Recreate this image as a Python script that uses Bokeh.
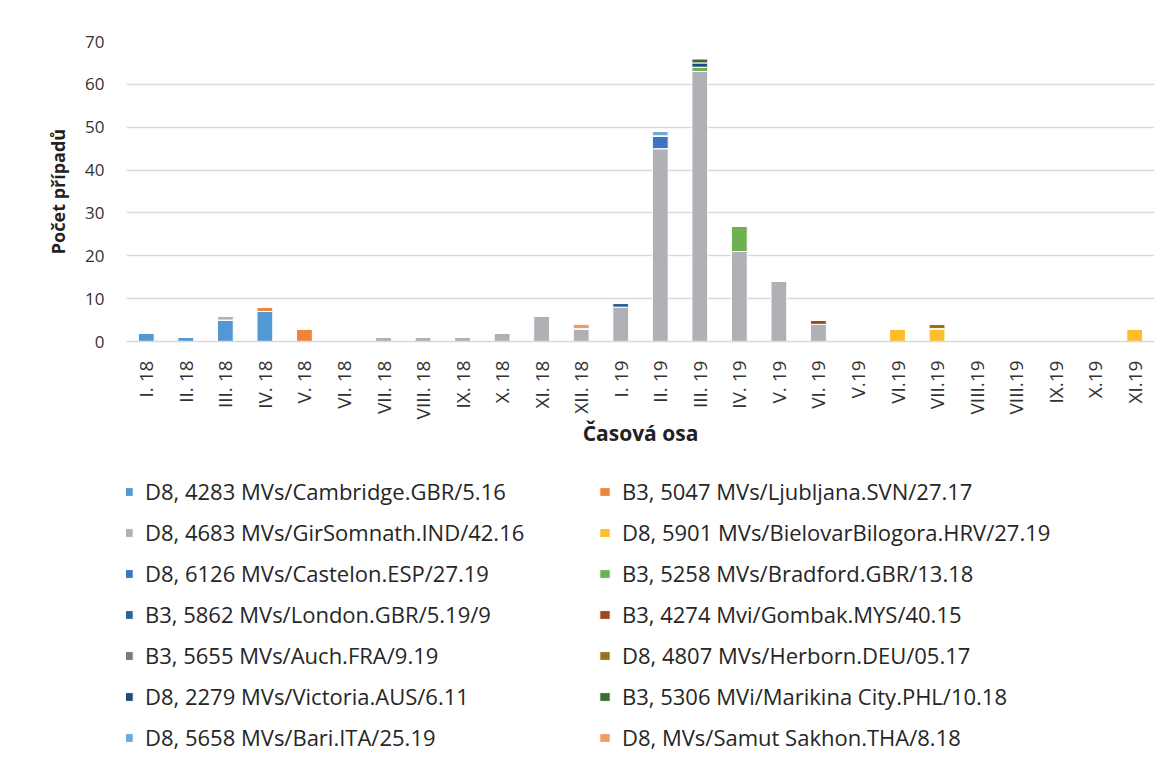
import math
from bokeh.plotting import figure
from bokeh.layouts import column
from bokeh.models import Range1d, FixedTicker, Legend, LegendItem
from bokeh.embed import file_html
from bokeh.resources import INLINE

# ---- data ----
months = ["I. 18", "II. 18", "III. 18", "IV. 18", "V. 18", "VI. 18", "VII. 18", "VIII. 18",
          "IX. 18", "X. 18", "XI. 18", "XII. 18", "I. 19", "II. 19", "III. 19", "IV. 19",
          "V. 19", "VI. 19", "V.19", "VI.19", "VII.19", "VIII.19", "VIII.19", "IX.19", "X.19", "XI.19"]

series_names = [
    "D8, 4283 MVs/Cambridge.GBR/5.16",
    "B3, 5047 MVs/Ljubljana.SVN/27.17",
    "D8, 4683 MVs/GirSomnath.IND/42.16",
    "D8, 5901 MVs/BielovarBilogora.HRV/27.19",
    "D8, 6126 MVs/Castelon.ESP/27.19",
    "B3, 5258 MVs/Bradford.GBR/13.18",
    "B3, 5862 MVs/London.GBR/5.19/9",
    "B3, 4274 Mvi/Gombak.MYS/40.15",
    "B3, 5655 MVs/Auch.FRA/9.19",
    "D8, 4807 MVs/Herborn.DEU/05.17",
    "D8, 2279 MVs/Victoria.AUS/6.11",
    "B3, 5306 MVi/Marikina City.PHL/10.18",
    "D8, 5658 MVs/Bari.ITA/25.19",
    "D8, MVs/Samut Sakhon.THA/8.18",
]

cambridge  = [2, 1, 5, 7, 0, 0, 0, 0, 0, 0, 0, 0, 0, 0, 0, 0, 0, 0, 0, 0, 0, 0, 0, 0, 0, 0]
ljubljana  = [0, 0, 0, 1, 3, 0, 0, 0, 0, 0, 0, 0, 0, 0, 0, 0, 0, 0, 0, 0, 0, 0, 0, 0, 0, 0]
girsomnath = [0, 0, 1, 0, 0, 0, 1, 1, 1, 2, 6, 3, 8, 45, 63, 21, 14, 4, 0, 0, 0, 0, 0, 0, 0, 0]
bjelovar   = [0, 0, 0, 0, 0, 0, 0, 0, 0, 0, 0, 0, 0, 0, 0, 0, 0, 0, 0, 3, 3, 0, 0, 0, 0, 3]
castelon   = [0, 0, 0, 0, 0, 0, 0, 0, 0, 0, 0, 0, 0, 3, 0, 0, 0, 0, 0, 0, 0, 0, 0, 0, 0, 0]
bradford   = [0, 0, 0, 0, 0, 0, 0, 0, 0, 0, 0, 0, 0, 0, 1, 6, 0, 0, 0, 0, 0, 0, 0, 0, 0, 0]
london     = [0, 0, 0, 0, 0, 0, 0, 0, 0, 0, 0, 0, 1, 0, 0, 0, 0, 0, 0, 0, 0, 0, 0, 0, 0, 0]
gombak     = [0, 0, 0, 0, 0, 0, 0, 0, 0, 0, 0, 0, 0, 0, 0, 0, 0, 1, 0, 0, 0, 0, 0, 0, 0, 0]
auch       = [0, 0, 0, 0, 0, 0, 0, 0, 0, 0, 0, 0, 0, 0, 0, 0, 0, 0, 0, 0, 0, 0, 0, 0, 0, 0]
herborn    = [0, 0, 0, 0, 0, 0, 0, 0, 0, 0, 0, 0, 0, 0, 0, 0, 0, 0, 0, 0, 1, 0, 0, 0, 0, 0]
victoria   = [0, 0, 0, 0, 0, 0, 0, 0, 0, 0, 0, 0, 0, 0, 1, 0, 0, 0, 0, 0, 0, 0, 0, 0, 0, 0]
marikina   = [0, 0, 0, 0, 0, 0, 0, 0, 0, 0, 0, 0, 0, 0, 1, 0, 0, 0, 0, 0, 0, 0, 0, 0, 0, 0]
bari       = [0, 0, 0, 0, 0, 0, 0, 0, 0, 0, 0, 0, 0, 1, 0, 0, 0, 0, 0, 0, 0, 0, 0, 0, 0, 0]
samut      = [0, 0, 0, 0, 0, 0, 0, 0, 0, 0, 0, 1, 0, 0, 0, 0, 0, 0, 0, 0, 0, 0, 0, 0, 0, 0]

series_values = [cambridge, ljubljana, girsomnath, bjelovar, castelon, bradford, london,
                 gombak, auch, herborn, victoria, marikina, bari, samut]

colors = ["#5298D3", "#F0843C", "#B0B1B4", "#FDBE2B", "#3F73BF", "#6DB152", "#2A6396",
          "#9C4A1C", "#7A7A7A", "#98731C", "#1F4B7E", "#3F6A33", "#6FA8DC", "#F39A62"]

y_ticks = [0, 10, 20, 30, 40, 50, 60, 70]

FONT = "Open Sans"

data = {"x": list(range(len(months)))}
keys = []
for i, vals in enumerate(series_values):
    k = f"s{i}"
    data[k] = vals
    keys.append(k)

# ---- main chart ----
p = figure(width=1168, height=470, output_backend="svg", toolbar_location=None,
           x_range=Range1d(-0.5, len(months) - 0.5), y_range=Range1d(0, 70),
           min_border_left=126, min_border_right=14, min_border_top=41, min_border_bottom=129,
           background_fill_color="white", border_fill_color="white")
p.outline_line_color = None

p.vbar_stack(keys, x="x", width=0.4, source=data, fill_color=colors,
             line_color="white", line_width=1)

p.xgrid.grid_line_color = None
p.ygrid.grid_line_color = "#D9D9D9"
p.ygrid.grid_line_width = 1.4
p.yaxis.ticker = FixedTicker(ticks=y_ticks)

p.yaxis.axis_line_color = None
p.yaxis.major_tick_line_color = None
p.yaxis.minor_tick_line_color = None
p.yaxis.major_label_text_font = FONT
p.yaxis.major_label_text_font_size = "17px"
p.yaxis.major_label_text_color = "#333333"
p.yaxis.major_label_standoff = 16
p.yaxis.axis_label = "Počet případů"
p.yaxis.axis_label_text_font = FONT
p.yaxis.axis_label_text_font_style = "bold"
p.yaxis.axis_label_text_font_size = "18px"
p.yaxis.axis_label_text_color = "#222222"
p.yaxis.axis_label_standoff = 12

p.xaxis.ticker = FixedTicker(ticks=list(range(len(months))))
p.xaxis.major_label_overrides = {i: m for i, m in enumerate(months)}
p.xaxis.major_label_orientation = math.pi / 2
p.xaxis.axis_line_color = "#D9D9D9"
p.xaxis.axis_line_width = 1.4
p.xaxis.major_tick_line_color = None
p.xaxis.minor_tick_line_color = None
p.xaxis.major_label_text_font = FONT
p.xaxis.major_label_text_font_size = "19px"
p.xaxis.major_label_text_color = "#333333"
p.xaxis.major_label_standoff = 13
p.xaxis.axis_label = "Časová osa"
p.xaxis.axis_label_text_font = FONT
p.xaxis.axis_label_text_font_style = "bold"
p.xaxis.axis_label_text_font_size = "21px"
p.xaxis.axis_label_text_color = "#222222"
p.xaxis.axis_label_standoff = -3

# ---- legend panel (same series, drawn out of view; only the legend shows) ----
q = figure(width=1168, height=292, output_backend="svg", toolbar_location=None,
           x_range=Range1d(-0.5, len(months) - 0.5), y_range=Range1d(1000, 1001),
           min_border=0, background_fill_color="white", border_fill_color="white")
q.outline_line_color = None
q.axis.visible = False
q.grid.visible = False
leg_renderers = q.vbar_stack(keys, x="x", width=0.4, source=data, fill_color=colors,
                             line_color="white", line_width=1)

order = [0, 2, 4, 6, 8, 10, 12, 1, 3, 5, 7, 9, 11, 13]
items = [LegendItem(label=series_names[i], renderers=[leg_renderers[i]]) for i in order]
legend = Legend(items=items, orientation="vertical", ncols=2,
                label_text_font=FONT, label_text_font_size="22px", label_text_color="#262626",
                glyph_width=13, glyph_height=11, label_standoff=11, label_width=442,
                label_height=29, spacing=11, padding=0, margin=0,
                border_line_color=None, background_fill_alpha=0, location=(-5, 10))
q.add_layout(legend, "center")

layout = column(p, q, spacing=0)
open("out.html", "w").write(file_html(layout, INLINE))
